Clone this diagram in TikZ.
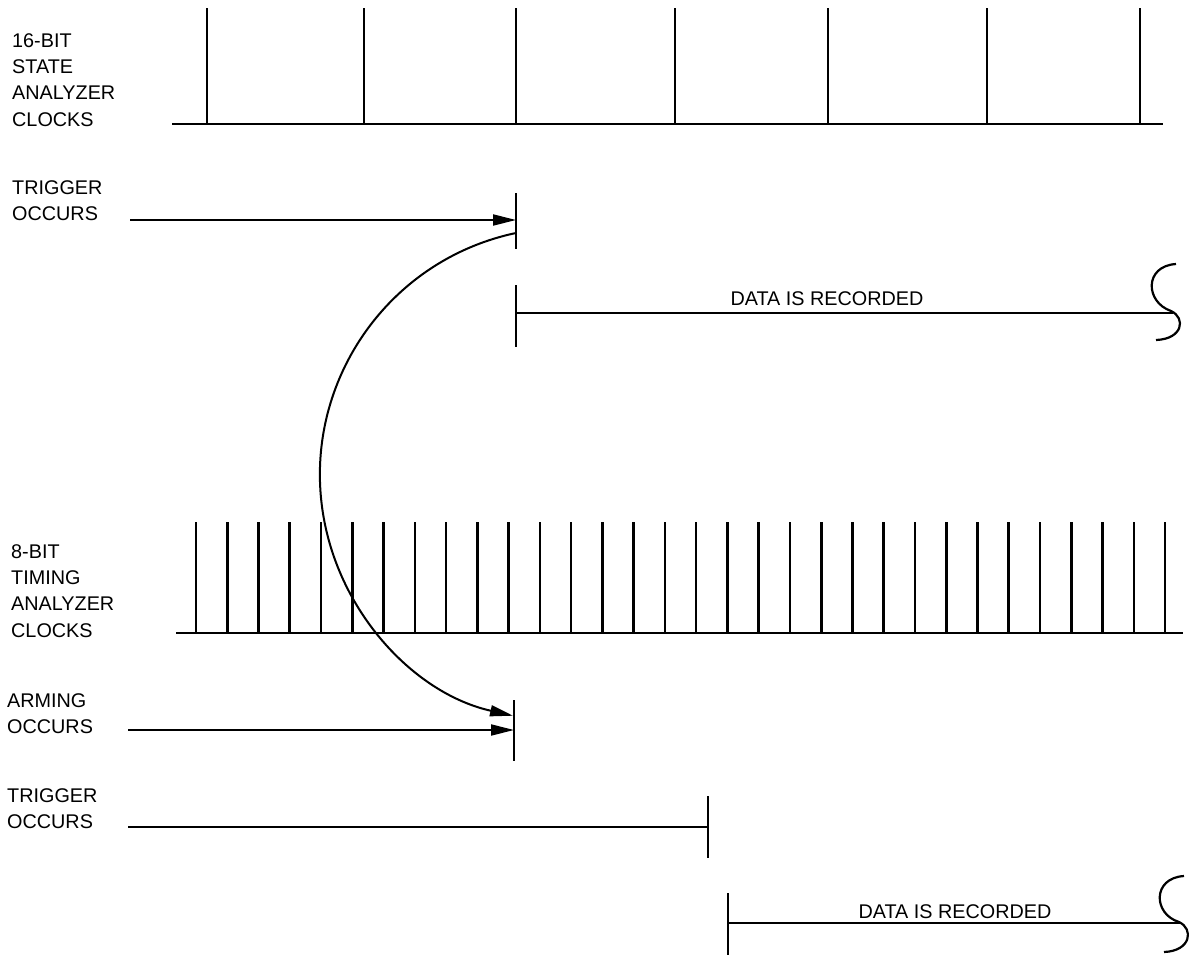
\documentclass[tikz,border=0pt]{standalone}
\usepackage{fontspec}
\setmainfont{Liberation Sans}
\usetikzlibrary{arrows.meta}
\begin{document}
\begin{tikzpicture}[x=1pt,y=-1pt,
  lbl/.style={anchor=north west,inner sep=0pt,align=left,font=\fontsize{19.8}{26.4}\selectfont},
  dlbl/.style={anchor=base,inner sep=0pt,font=\fontsize{19.8}{24}\selectfont},
  tick/.style={line width=2.6pt},
  baseln/.style={line width=2.3pt},
  ln/.style={line width=2pt},
  bar/.style={line width=2.1pt},
  arr/.style={-{Triangle[length=23pt,width=11pt]}},
  sshape/.style={line width=2.2pt}
]
\useasboundingbox (0,0) rectangle (1189,956);

% ---- 16-bit state analyzer clocks
\node[lbl] (statelbl) at (12,33) {16-BIT\\STATE\\ANALYZER\\CLOCKS};
\coordinate (sb0) at (172,124);
\coordinate (sb1) at (1163,124);
\draw[baseln] (sb0) -- (sb1);
\foreach \x [count=\k] in {207,364,516,675,828,987,1140}{
  \coordinate (st\k) at (\x,124);
  \coordinate (stt\k) at (\x,8);
  \draw[tick] (st\k) -- (stt\k);
}

% ---- trigger occurs (state)
\node[lbl] (trig1lbl) at (12,180) {TRIGGER\\OCCURS};
\coordinate (t1a) at (130,220);
\coordinate (t1b) at (516,220);
\coordinate (t1top) at (516,193);
\coordinate (t1bot) at (516,249);
\coordinate (cs) at (516,233);
\draw[bar] (t1top) -- (t1bot);
\draw[ln,arr] (t1a) -- (t1b);

% ---- data is recorded (state)
\coordinate (d1top) at (516,285);
\coordinate (d1bot) at (516,347);
\coordinate (d1a) at (516,313);
\coordinate (d1b) at (1173,313);
\draw[bar] (d1top) -- (d1bot);
\draw[ln] (d1a) -- (d1b);
\node[dlbl] (data1lbl) at (827,305) {DATA IS RECORDED};
\draw[sshape] (1176,264) .. controls (1144,266) and (1145,302) .. (1171,311)
  .. controls (1186,318) and (1183,339) .. (1156,340);

% ---- 8-bit timing analyzer clocks
\node[lbl] (timelbl) at (11,544) {8-BIT\\TIMING\\ANALYZER\\CLOCKS};
\coordinate (tb0) at (176,633);
\coordinate (tb1) at (1183,633);
\draw[baseln] (tb0) -- (tb1);
\foreach \i in {0,...,31}{
  \draw[tick] ({196+\i*31.26},633) -- ({196+\i*31.26},522);
}

% ---- arming occurs
\node[lbl] (armlbl) at (7,693) {ARMING\\OCCURS};
\coordinate (ama) at (128,730);
\coordinate (amb) at (514,730);
\coordinate (amtop) at (514,700);
\coordinate (ambot) at (514,761);
\draw[bar] (amtop) -- (ambot);
\draw[ln,arr] (ama) -- (amb);

% ---- arc from trigger to arming
\draw[ln,arr] (cs) arc[start angle=258.1, end angle=102.6, radius=247];

% ---- trigger occurs (timing)
\node[lbl] (trig2lbl) at (7,788) {TRIGGER\\OCCURS};
\coordinate (t2a) at (128,827);
\coordinate (t2b) at (708,827);
\coordinate (t2top) at (708,796);
\coordinate (t2bot) at (708,858);
\draw[bar] (t2top) -- (t2bot);
\draw[ln] (t2a) -- (t2b);

% ---- data is recorded (timing)
\coordinate (d2top) at (728,893);
\coordinate (d2bot) at (728,955);
\coordinate (d2a) at (728,923);
\coordinate (d2b) at (1181,923);
\draw[bar] (d2top) -- (d2bot);
\draw[ln] (d2a) -- (d2b);
\node[dlbl] (data2lbl) at (955,918) {DATA IS RECORDED};
\draw[sshape] (1184,876) .. controls (1152,878) and (1153,914) .. (1179,922)
  .. controls (1194,929) and (1191,951) .. (1164,952);
\end{tikzpicture}
\end{document}
